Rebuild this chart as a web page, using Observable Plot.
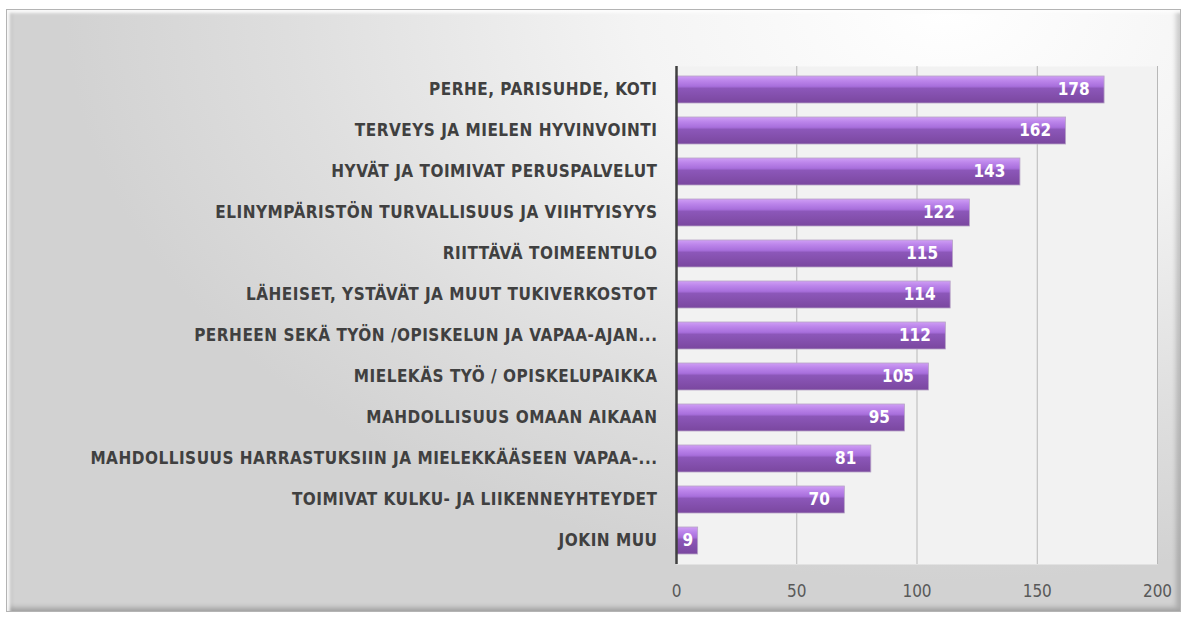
<!DOCTYPE html>
<html>
<head>
<meta charset="utf-8">
<script src="https://cdn.jsdelivr.net/npm/d3@7"></script>
<script src="https://cdn.jsdelivr.net/npm/@observablehq/plot@0.6"></script>
<style>
  html, body { margin: 0; padding: 0; background: #ffffff; }
  #wrap { position: relative; width: 1187px; height: 619px; overflow: hidden; }
  #frame {
    position: absolute; left: 6px; top: 9px; width: 1173px; height: 601px;
    border: 1px solid #b4b4b4;
    background: radial-gradient(ellipse 75% 95% at 80% 0%, #ffffff 0%, #f4f4f4 35%, #dedede 75%, #d2d2d2 100%);
    box-shadow: inset 3px 3px 3px rgba(255,255,255,0.9), inset -4px -4px 5px rgba(0,0,0,0.18), inset 4px 0 4px rgba(0,0,0,0.12);
  }
  #chart { position: absolute; left: 0; top: 0; }
</style>
</head>
<body>
<div id="wrap"><div id="frame"></div><div id="chart"></div></div>
<script>
const categories = [
  "PERHE, PARISUHDE, KOTI",
  "TERVEYS JA MIELEN HYVINVOINTI",
  "HYVÄT JA TOIMIVAT PERUSPALVELUT",
  "ELINYMPÄRISTÖN TURVALLISUUS JA VIIHTYISYYS",
  "RIITTÄVÄ TOIMEENTULO",
  "LÄHEISET, YSTÄVÄT JA MUUT TUKIVERKOSTOT",
  "PERHEEN SEKÄ TYÖN /OPISKELUN JA VAPAA-AJAN...",
  "MIELEKÄS TYÖ / OPISKELUPAIKKA",
  "MAHDOLLISUUS OMAAN AIKAAN",
  "MAHDOLLISUUS HARRASTUKSIIN JA MIELEKKÄÄSEEN VAPAA-...",
  "TOIMIVAT KULKU- JA LIIKENNEYHTEYDET",
  "JOKIN MUU"
];
const values = [178, 162, 143, 122, 115, 114, 112, 105, 95, 81, 70, 9];
const xTicks = [0, 50, 100, 150, 200];

const data = categories.map((c, i) => ({category: c, value: values[i]}));
const big = data.filter(d => d.value >= 20);
const small = data.filter(d => d.value < 20);

const font = "'DejaVu Sans Condensed', 'Liberation Sans', sans-serif";

const plot = Plot.plot({
  width: 1187,
  height: 619,
  marginLeft: 676,
  marginRight: 30,
  marginTop: 66,
  marginBottom: 55,
  style: {background: "transparent", overflow: "visible"},
  x: {domain: [0, 200], ticks: xTicks, label: null},
  y: {domain: categories, label: null, paddingInner: 0.35, paddingOuter: 0.175},
  marks: [
    Plot.frame({fill: "#f2f2f2", stroke: null}),
    Plot.gridX(xTicks.filter(t => t > 0), {stroke: "#b8b8b8", strokeOpacity: 1, strokeWidth: 1}),
    Plot.barX(data, {x: "value", y: "category", fill: "url(#barGrad)", stroke: "#b7a4c6", strokeWidth: 0.8}),
    Plot.ruleX([0], {stroke: "#404040", strokeWidth: 2.5}),
    Plot.text(big, {x: "value", y: "category", text: d => String(d.value), textAnchor: "end", dx: -15, fill: "white", fontWeight: "bold", fontSize: 17, fontFamily: font}),
    Plot.text(small, {x: "value", y: "category", text: d => String(d.value), textAnchor: "end", dx: -5, fill: "white", fontWeight: "bold", fontSize: 17, fontFamily: font}),
    Plot.axisY({tickSize: 0, tickPadding: 19, fontSize: 17, fontWeight: "bold", fill: "#404040", fontFamily: font, textAnchor: "end"}),
    Plot.axisX({ticks: xTicks, tickSize: 0, tickPadding: 20, fontSize: 17, fill: "#595959", fontFamily: font, label: null})
  ]
});

plot.querySelectorAll("g[aria-label='y-axis tick label'] text").forEach(t => t.setAttribute("letter-spacing", "0.5"));

const ns = "http://www.w3.org/2000/svg";
const defs = document.createElementNS(ns, "defs");
defs.innerHTML = `
  <linearGradient id="barGrad" x1="0" y1="0" x2="0" y2="1">
    <stop offset="0" stop-color="#cf9ef5"/>
    <stop offset="0.18" stop-color="#bb84ea"/>
    <stop offset="0.38" stop-color="#a86fdc"/>
    <stop offset="0.46" stop-color="#8c57b9"/>
    <stop offset="1" stop-color="#7a479f"/>
  </linearGradient>`;
plot.insertBefore(defs, plot.firstChild);
document.getElementById("chart").appendChild(plot);
</script>
</body>
</html>
